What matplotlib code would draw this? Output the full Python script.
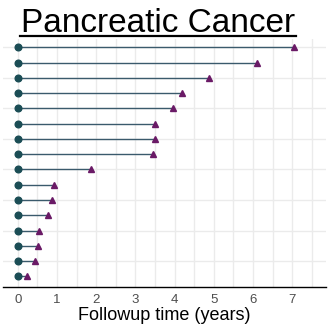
import matplotlib
matplotlib.use('Agg')
import matplotlib.pyplot as plt
from matplotlib.lines import Line2D
import numpy as np

# followup time per patient (years), listed bottom row first
followup = [0.22, 0.43, 0.52, 0.53, 0.76, 0.87, 0.93, 1.86,
            3.44, 3.49, 3.51, 3.96, 4.19, 4.87, 6.10, 7.05]
start = [0.0] * len(followup)
rows = list(range(1, len(followup) + 1))
xticks = [0, 1, 2, 3, 4, 5, 6, 7]

plt.rcParams['font.family'] = ['Liberation Sans', 'DejaVu Sans']

fig = plt.figure(figsize=(3.28, 3.27), dpi=100)
ax = fig.add_axes([3 / 328, 1 - 287 / 327, 323 / 328, 248 / 327])

# grid
for gx in np.arange(0, 8.0, 0.5):
    ax.axvline(gx, color='#ebebeb', lw=1.0, zorder=0)
for gy in rows[1::2]:
    ax.axhline(gy, color='#ebebeb', lw=1.0, zorder=0)

# patient lines
for r, s, f in zip(rows, start, followup):
    ax.plot([s, f], [r, r], color='#3a5a6c', lw=1.0, zorder=2)
ax.plot(start, rows, 'o', color='#1b4d55', ms=4.8, zorder=3)
ax.plot(followup, rows, '^', color='#6a1a66', ms=5.0, zorder=3)

ax.set_xlim(-0.38, 7.86)
ax.set_ylim(0.3, 16.55)
ax.set_xticks(xticks)
ax.set_xticklabels([str(t) for t in xticks], fontsize=9.5, color='#4d4d4d')
ax.set_yticks([])
ax.tick_params(axis='x', length=0, pad=5)
for side in ['top', 'right', 'left']:
    ax.spines[side].set_visible(False)
ax.spines['bottom'].set_color('black')
ax.spines['bottom'].set_linewidth(1.0)
ax.set_xlabel('Followup time (years)', fontsize=13, color='black', labelpad=1)

# underlined title
fig.text(158 / 328, 1 - 32 / 327, 'Pancreatic Cancer', fontsize=24,
         ha='center', va='baseline', color='black')
fig.add_artist(Line2D([20 / 328, 296 / 328], [1 - 36 / 327, 1 - 36 / 327],
                      color='black', lw=1.6))

fig.savefig('out.png', dpi=100)
